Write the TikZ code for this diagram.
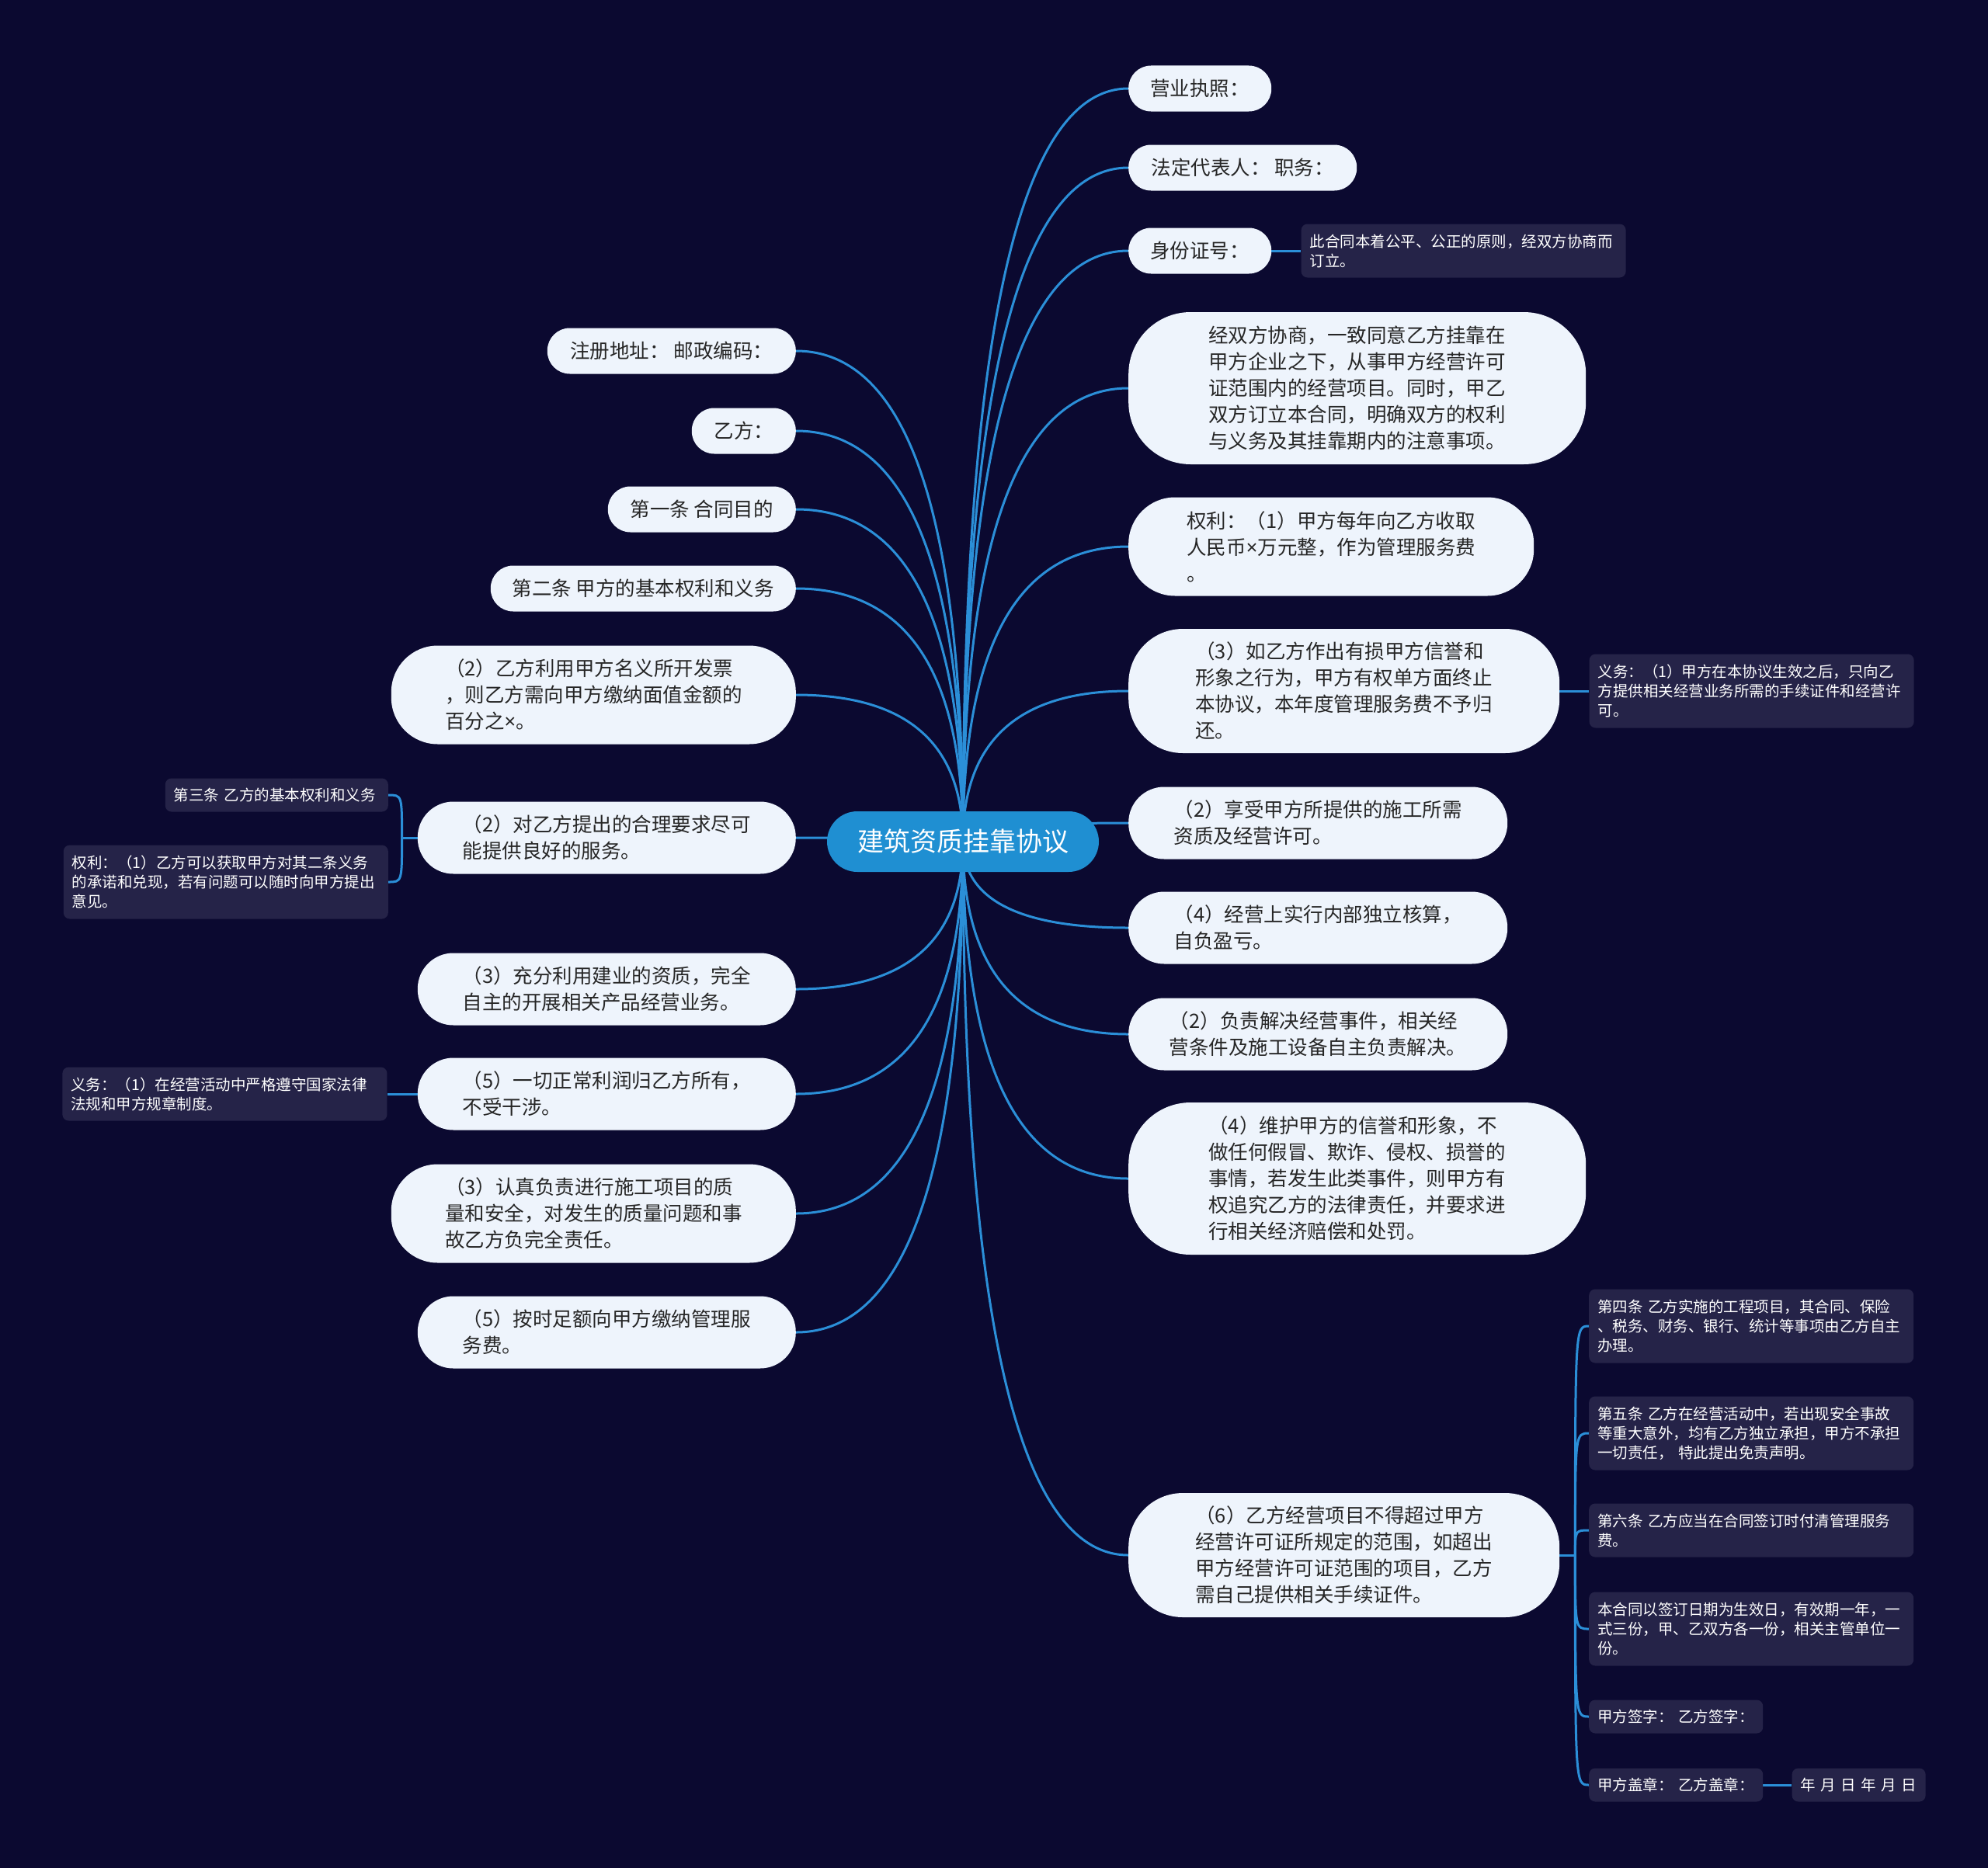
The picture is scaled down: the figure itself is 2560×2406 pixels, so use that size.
\documentclass[tikz,border=0pt]{standalone}
\usepackage{fontspec}
\setmainfont{Noto Sans CJK SC}
\newfontfamily\latinfont{Noto Sans}
\usetikzlibrary{calc,positioning}
\definecolor{pagebg}{HTML}{0B0930}
\definecolor{leafbg}{HTML}{EEF4FC}
\definecolor{leaftext}{HTML}{262626}
\definecolor{notebg}{HTML}{252348}
\definecolor{rootbg}{HTML}{1F8FD2}
\definecolor{branchblue}{HTML}{2B8FD8}
\pgfdeclarelayer{back}
\pgfsetlayers{back,main}
\newcommand{\tms}{{\latinfont ×}}

\begin{document}
\begin{tikzpicture}[x=1pt, y=-1pt,
  leaf/.style={fill=leafbg, text=leaftext, font=\fontsize{25.5pt}{34pt}\selectfont,
    align=left, inner sep=0pt},
  leafa/.style={leaf, minimum height=59pt, rounded corners=29pt},
  leafb/.style={leaf, minimum height=93pt, rounded corners=46pt},
  leafc/.style={leaf, minimum height=127pt, rounded corners=60pt},
  leafd/.style={leaf, minimum height=160pt, rounded corners=70pt},
  leafe/.style={leaf, minimum height=196pt, rounded corners=80pt},
  note/.style={fill=notebg, text=white, font=\fontsize{19.5pt}{25pt}\selectfont,
    align=left, rounded corners=8pt, inner xsep=11pt, inner ysep=0pt, text width=396pt},
  branch/.style={draw=branchblue, line width=3pt}]
  \useasboundingbox (0,0) rectangle (2560,2406);
  \begin{pgfonlayer}{back}
    \fill[pagebg] (0,0) rectangle (2560,2406);
  \end{pgfonlayer}

  \node[fill=rootbg, text=white, font=\fontsize{34pt}{40pt}\selectfont, minimum width=350pt,
    minimum height=78pt, rounded corners=39pt, inner sep=0pt] (root) at (1240,1084) {建筑资质挂靠协议};

  % right side
  \node[leafa, anchor=west, minimum width=184pt] (r1) at (1453,114) {营业执照：};
  \node[leafa, anchor=west, minimum width=294pt] (r2) at (1453,216) {法定代表人： 职务：};
  \node[leafa, anchor=west, minimum width=184pt] (r3) at (1453,323) {身份证号：};
  \node[leafe, anchor=west, minimum width=589pt] (r4) at (1453,500)
    {经双方协商，一致同意乙方挂靠在\\甲方企业之下，从事甲方经营许可\\证范围内的经营项目。同时，甲乙\\双方订立本合同，明确双方的权利\\与义务及其挂靠期内的注意事项。};
  \node[leafc, anchor=west, minimum width=522pt] (r5) at (1453,704)
    {权利：（1）甲方每年向乙方收取\\人民币\tms 万元整，作为管理服务费\\。};
  \node[leafd, anchor=west, minimum width=555pt] (r6) at (1453,890)
    {（3）如乙方作出有损甲方信誉和\\形象之行为，甲方有权单方面终止\\本协议，本年度管理服务费不予归\\还。};
  \node[leafb, anchor=west, minimum width=488pt] (r7) at (1453,1060)
    {（2）享受甲方所提供的施工所需\\资质及经营许可。};
  \node[leafb, anchor=west, minimum width=488pt] (r8) at (1453,1195)
    {（4）经营上实行内部独立核算，\\自负盈亏。};
  \node[leafb, anchor=west, minimum width=488pt] (r9) at (1453,1332)
    {（2）负责解决经营事件，相关经\\营条件及施工设备自主负责解决。};
  \node[leafe, anchor=west, minimum width=589pt] (r10) at (1453,1518)
    {（4）维护甲方的信誉和形象，不\\做任何假冒、欺诈、侵权、损誉的\\事情，若发生此类事件，则甲方有\\权追究乙方的法律责任，并要求进\\行相关经济赔偿和处罚。};
  \node[leafd, anchor=west, minimum width=555pt] (r11) at (1453,2003)
    {（6）乙方经营项目不得超过甲方\\经营许可证所规定的范围，如超出\\甲方经营许可证范围的项目，乙方\\需自己提供相关手续证件。};

  \node[note, right=38pt of r3, minimum height=69pt] (r3n)
    {此合同本着公平、公正的原则，经双方协商而\\订立。};
  \node[note, right=38pt of r6, minimum height=95pt] (r6n)
    {义务：（1）甲方在本协议生效之后，只向乙\\方提供相关经营业务所需的手续证件和经营许\\可。};

  \node[note, anchor=west, minimum height=95pt] (s1) at (2046,1708)
    {第四条 乙方实施的工程项目，其合同、保险\\、税务、财务、银行、统计等事项由乙方自主\\办理。};
  \node[note, anchor=west, minimum height=95pt] (s2) at (2046,1846)
    {第五条 乙方在经营活动中，若出现安全事故\\等重大意外，均有乙方独立承担，甲方不承担\\一切责任， 特此提出免责声明。};
  \node[note, anchor=west, minimum height=69pt] (s3) at (2046,1971)
    {第六条 乙方应当在合同签订时付清管理服务\\费。};
  \node[note, anchor=west, minimum height=95pt] (s4) at (2046,2098)
    {本合同以签订日期为生效日，有效期一年，一\\式三份，甲、乙双方各一份，相关主管单位一\\份。};
  \node[note, anchor=west, minimum height=43pt, text width=202pt] (s5) at (2046,2211)
    {甲方签字： 乙方签字：};
  \node[note, anchor=west, minimum height=43pt, text width=202pt] (s6) at (2046,2299)
    {甲方盖章： 乙方盖章：};
  \node[note, right=37pt of s6, minimum height=43pt, text width=150pt] (s6n)
    {年~月~日~年~月~日};

  % left side
  \node[leafa, anchor=east, minimum width=320pt] (l1) at (1025,452) {注册地址： 邮政编码：};
  \node[leafa, anchor=east, minimum width=134pt] (l2) at (1025,555) {乙方：};
  \node[leafa, anchor=east, minimum width=242pt] (l3) at (1025,656) {第一条 合同目的};
  \node[leafa, anchor=east, minimum width=393pt] (l4) at (1025,758) {第二条 甲方的基本权利和义务};
  \node[leafc, anchor=east, minimum width=521pt] (l5) at (1025,895)
    {（2）乙方利用甲方名义所开发票\\，则乙方需向甲方缴纳面值金额的\\百分之\tms 。};
  \node[leafb, anchor=east, minimum width=487pt] (l6) at (1025,1079)
    {（2）对乙方提出的合理要求尽可\\能提供良好的服务。};
  \node[leafb, anchor=east, minimum width=487pt] (l7) at (1025,1274)
    {（3）充分利用建业的资质，完全\\自主的开展相关产品经营业务。};
  \node[leafb, anchor=east, minimum width=487pt] (l8) at (1025,1409)
    {（5）一切正常利润归乙方所有，\\不受干涉。};
  \node[leafc, anchor=east, minimum width=521pt] (l9) at (1025,1563)
    {（3）认真负责进行施工项目的质\\量和安全，对发生的质量问题和事\\故乙方负完全责任。};
  \node[leafb, anchor=east, minimum width=487pt] (l10) at (1025,1716)
    {（5）按时足额向甲方缴纳管理服\\务费。};

  \node[note, anchor=east, minimum height=43pt, text width=265pt] (t1) at (500,1024)
    {第三条 乙方的基本权利和义务};
  \node[note, anchor=east, minimum height=95pt] (t2) at (500,1136)
    {权利：（1）乙方可以获取甲方对其二条义务\\的承诺和兑现，若有问题可以随时向甲方提出\\意见。};
  \node[note, left=39pt of l8, minimum height=69pt] (l8n)
    {义务：（1）在经营活动中严格遵守国家法律\\法规和甲方规章制度。};

  \coordinate (rfork) at ($(r11.east)+(20,0)$);
  \coordinate (lfork) at ($(l6.west)+(-20,0)$);

  % connectors
  \begin{pgfonlayer}{back}
    \foreach \i in {1,...,11}
      \draw[branch] (root.center) .. controls ($(root.center)!.667!(root.center |- r\i.west)$)
        and ($(r\i.west)!.667!(root.center |- r\i.west)$) .. (r\i.west);
    \foreach \i in {1,...,10}
      \draw[branch] (root.center) .. controls ($(root.center)!.667!(root.center |- l\i.east)$)
        and ($(l\i.east)!.667!(root.center |- l\i.east)$) .. (l\i.east);
    \draw[branch] (r3.east) -- (r3n.west);
    \draw[branch] (r6.east) -- (r6n.west);
    \draw[branch] (l8.west) -- (l8n.east);
    \draw[branch] (s6.east) -- (s6n.west);
    \draw[branch] (r11.east) -- (rfork);
    \foreach \s in {s1,s2,s3,s4,s5,s6}
      \draw[branch] (rfork) .. controls (rfork |- \s.west) .. (\s.west);
    \draw[branch] (l6.west) -- (lfork);
    \foreach \t in {t1,t2}
      \draw[branch] (lfork) .. controls (lfork |- \t.east) .. (\t.east);
  \end{pgfonlayer}
\end{tikzpicture}
\end{document}
